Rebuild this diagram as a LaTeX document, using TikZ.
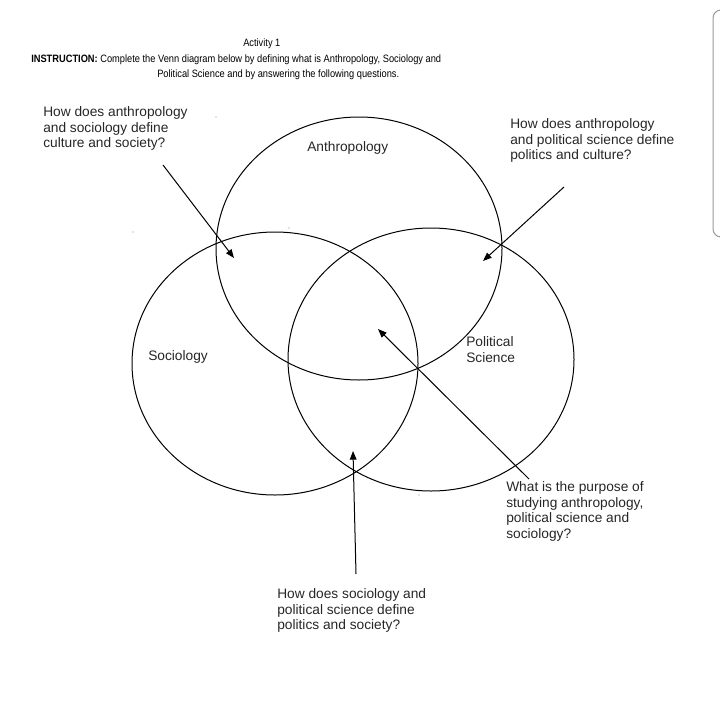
\documentclass[tikz,border=0pt]{standalone}
\usepackage{fontspec}
\setmainfont{Liberation Sans}
\newfontfamily\narrowfont[FakeStretch=0.87]{Liberation Sans}
\usetikzlibrary{arrows.meta,shapes.geometric}
\begin{document}
\begin{tikzpicture}[x=0.75pt,y=-0.75pt,
  venn/.style={draw=black,line width=0.75pt,ellipse,minimum width=214.5pt,minimum height=197.25pt,inner sep=0pt},
  qtext/.style={anchor=north west,inner sep=0pt,align=left,font=\fontsize{10.3}{11.85}\selectfont,text=black!85},
  lbl/.style={inner sep=0pt,font=\fontsize{10.3}{11.85}\selectfont,text=black!85},
  hdr/.style={anchor=base west,inner sep=0pt,font=\narrowfont\fontsize{8}{9.6}\selectfont},
  pointer/.style={draw=black,line width=0.75pt,-{Triangle[length=6.5pt,width=5pt]}},
  speck/.style={fill=black!45,draw=none}]
\useasboundingbox (0,0) rectangle (720,717);
% right-hand box (mostly outside)
\draw[black!40,line width=0.75pt,rounded corners=6pt] (713,10) rectangle (760,237);
% header
\node[hdr] (act) at (243,46) {Activity 1};
\node[hdr] (ins1) at (31,63) {\textbf{INSTRUCTION:} Complete the Venn diagram below by defining what is Anthropology, Sociology and};
\node[hdr] (ins2) at (157,78) {Political Science and by answering the following questions.};
% Venn ellipses
\node[venn] (anth) at (359,248.5) {};
\node[venn] (soc) at (275,363.5) {};
\node[venn] (pol) at (431,359.5) {};
% labels
\node[lbl,anchor=base west] (lanth) at (307,151) {Anthropology};
\node[lbl,anchor=base west] (lsoc) at (148,360) {Sociology};
\node[qtext] (lpol) at (466,336) {Political\\Science};
% questions
\node[qtext] (q1) at (43,106) {How does anthropology\\and sociology define\\culture and society?};
\node[qtext] (q2) at (510,118) {How does anthropology\\and political science define\\politics and culture?};
\node[qtext] (q3) at (506,481) {What is the purpose of\\studying anthropology,\\political science and\\sociology?};
\node[qtext] (q4) at (277,588) {How does sociology and\\political science define\\politics and society?};
% arrow ends
\coordinate (t1) at (163,165); \coordinate (h1) at (234,258);
\coordinate (t2) at (564,187); \coordinate (h2) at (483,261);
\coordinate (t3) at (529,479); \coordinate (h3) at (378,329);
\coordinate (t4) at (356,574); \coordinate (h4) at (353,451);
\draw[pointer] (t1) -- (h1);
\draw[pointer] (t2) -- (h2);
\draw[pointer] (t3) -- (h3);
\draw[pointer] (t4) -- (h4);
% specks
\fill[speck] (216,117) circle (0.5pt);
\fill[speck] (133,232) circle (0.5pt);
\fill[speck] (289,228) circle (0.5pt);
\fill[speck] (419,495) circle (0.5pt);
\end{tikzpicture}
\end{document}
